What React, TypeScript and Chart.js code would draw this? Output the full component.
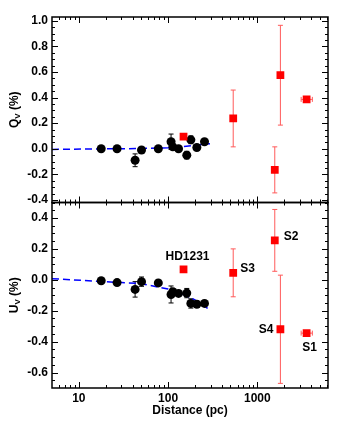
import React, { useEffect, useRef } from 'react';
import { Chart, registerables } from 'chart.js';

Chart.register(...registerables);

// ---- data ----
const starDist = [17.8, 26.8, 42.7, 50.4, 77.7, 108, 113, 131, 162, 180, 210, 256];
const starQ = [0.0, 0.0, -0.09, -0.01, 0.0, 0.055, 0.015, 0.0, -0.05, 0.07, 0.01, 0.055];
const starQErr = [0.01, 0.01, 0.05, 0.015, 0.01, 0.06, 0.02, 0.015, 0.03, 0.03, 0.015, 0.01];
const starU = [-0.006, -0.018, -0.062, -0.012, -0.02, -0.095, -0.077, -0.088, -0.086, -0.153, -0.158, -0.153];
const starUErr = [0.01, 0.01, 0.05, 0.03, 0.01, 0.055, 0.02, 0.015, 0.03, 0.03, 0.02, 0.01];

const hdName = 'HD1231';
const hdDist = [149];
const hdQ = [0.095];
const hdU = [0.067];

const clusterNames = ['S3', 'S2', 'S4', 'S1'];
const clusterDist = [537, 1570, 1815, 3570];
const clusterDistLo = [537, 1570, 1815, 3100];
const clusterDistHi = [537, 1570, 1815, 4140];
const clusterQ = [0.237, -0.165, 0.575, 0.386];
const clusterQErr = [0.222, 0.18, 0.39, 0.012];
const clusterU = [0.045, 0.255, -0.32, -0.345];
const clusterUErr = [0.155, 0.2, 0.35, 0.012];

const fitDist = [5, 50, 100, 150, 200, 295];
const fitQ = [-0.005, 0.002, 0.008, 0.018, 0.027, 0.04];
const fitU = [0.007, -0.025, -0.06, -0.095, -0.13, -0.195];

const xMajor = [10, 100, 1000];
const qMajor = [-0.4, -0.2, 0.0, 0.2, 0.4, 0.6, 0.8, 1.0];
const uMajor = [-0.6, -0.4, -0.2, 0.0, 0.2, 0.4];

const FONT = '"Liberation Sans", Arial, Helvetica, sans-serif';

function xMinorTicks(min: number, max: number) {
  const out: number[] = [];
  for (let p = 0; p <= 4; p++) {
    for (let m = 2; m <= 9; m++) {
      const v = m * Math.pow(10, p);
      if (v > min && v < max) out.push(v);
    }
  }
  return out;
}
function yMinorTicks(min: number, max: number) {
  const out: number[] = [];
  for (let i = Math.ceil(min / 0.05); i <= Math.floor(max / 0.05); i++) {
    if (i % 4 !== 0) out.push(i * 0.05);
  }
  return out;
}

const decorPlugin = {
  id: 'decor',
  beforeDatasetsDraw(chart: any) {
    const ctx = chart.ctx;
    const xs = chart.scales.x;
    ctx.save();
    chart.data.datasets.forEach((ds: any) => {
      if (!ds.errColor) return;
      const ys = chart.scales[ds.yAxisID];
      ctx.strokeStyle = ds.errColor;
      ctx.lineWidth = 1;
      ds.data.forEach((p: any) => {
        const px = xs.getPixelForValue(p.x);
        const py = ys.getPixelForValue(p.y);
        if (p.ey) {
          const y1 = ys.getPixelForValue(p.y + p.ey);
          const y2 = ys.getPixelForValue(p.y - p.ey);
          ctx.beginPath();
          ctx.moveTo(px, y1); ctx.lineTo(px, y2);
          ctx.moveTo(px - 2.5, y1); ctx.lineTo(px + 2.5, y1);
          ctx.moveTo(px - 2.5, y2); ctx.lineTo(px + 2.5, y2);
          ctx.stroke();
        }
        if (p.xlo !== undefined && p.xlo !== p.xhi) {
          const x1 = xs.getPixelForValue(p.xlo);
          const x2 = xs.getPixelForValue(p.xhi);
          ctx.beginPath();
          ctx.moveTo(x1, py); ctx.lineTo(x2, py);
          ctx.moveTo(x1, py - 2.5); ctx.lineTo(x1, py + 2.5);
          ctx.moveTo(x2, py - 2.5); ctx.lineTo(x2, py + 2.5);
          ctx.stroke();
        }
      });
    });
    ctx.restore();
  },
  afterDraw(chart: any) {
    const ctx = chart.ctx;
    const xs = chart.scales.x;
    const area = chart.chartArea;
    const xMin = xMinorTicks(xs.min, xs.max);
    ctx.save();
    ctx.strokeStyle = '#000';
    ctx.fillStyle = '#000';
    const panels = [
      { id: 'yQ', major: qMajor, sym: 'Q' },
      { id: 'yU', major: uMajor, sym: 'U' },
    ];
    panels.forEach((pn) => {
      const ys = chart.scales[pn.id];
      const top = ys.top, bottom = ys.bottom, left = area.left, right = area.right;
      // frame
      ctx.lineWidth = 1.5;
      ctx.strokeRect(left, top, right - left, bottom - top);
      ctx.lineWidth = 1;
      ctx.beginPath();
      // x ticks (top and bottom, inward)
      xMajor.forEach((v) => {
        const px = Math.round(xs.getPixelForValue(v)) + 0.5;
        ctx.moveTo(px, bottom); ctx.lineTo(px, bottom - 6);
        ctx.moveTo(px, top); ctx.lineTo(px, top + 6);
      });
      xMin.forEach((v) => {
        const px = Math.round(xs.getPixelForValue(v)) + 0.5;
        ctx.moveTo(px, bottom); ctx.lineTo(px, bottom - 3);
        ctx.moveTo(px, top); ctx.lineTo(px, top + 3);
      });
      // y ticks (left and right, inward)
      pn.major.forEach((v) => {
        const py = Math.round(ys.getPixelForValue(v)) + 0.5;
        ctx.moveTo(left, py); ctx.lineTo(left + 6, py);
        ctx.moveTo(right, py); ctx.lineTo(right - 6, py);
      });
      yMinorTicks(ys.min, ys.max).forEach((v) => {
        const py = Math.round(ys.getPixelForValue(v)) + 0.5;
        ctx.moveTo(left, py); ctx.lineTo(left + 3, py);
        ctx.moveTo(right, py); ctx.lineTo(right - 3, py);
      });
      ctx.stroke();

      // y title with subscript V
      const cy = (top + bottom) / 2;
      ctx.save();
      ctx.translate(15, cy);
      ctx.rotate(-Math.PI / 2);
      ctx.textBaseline = 'middle';
      ctx.textAlign = 'left';
      const big = 'bold 12px ' + FONT;
      const small = 'bold 8px ' + FONT;
      ctx.font = big;
      const w1 = ctx.measureText(pn.sym).width;
      const w3 = ctx.measureText(' (%)').width;
      ctx.font = small;
      const w2 = ctx.measureText('V').width;
      let sx = -(w1 + w2 + w3) / 2;
      ctx.font = big;
      ctx.fillText(pn.sym, sx, 0);
      sx += w1;
      ctx.font = small;
      ctx.fillText('V', sx, 3);
      sx += w2;
      ctx.font = big;
      ctx.fillText(' (%)', sx, 0);
      ctx.restore();
    });

    // point labels in the U panel
    const yU = chart.scales.yU;
    ctx.font = 'bold 12px ' + FONT;
    ctx.textBaseline = 'middle';
    const hx = xs.getPixelForValue(hdDist[0]);
    const hy = yU.getPixelForValue(hdU[0]);
    ctx.textAlign = 'center';
    ctx.fillText(hdName, hx + 4, hy - 13);
    const offs: Record<string, [number, number, CanvasTextAlign]> = {
      S3: [7, -4, 'left'],
      S2: [9, -4, 'left'],
      S4: [-7, 0, 'right'],
      S1: [3, 15, 'center'],
    };
    clusterNames.forEach((n, i) => {
      const px = xs.getPixelForValue(clusterDist[i]);
      const py = yU.getPixelForValue(clusterU[i]);
      const o = offs[n];
      ctx.textAlign = o[2];
      ctx.fillText(n, px + o[0], py + o[1]);
    });
    ctx.restore();
  },
};

export default function App() {
  const ref = useRef<HTMLCanvasElement | null>(null);
  useEffect(() => {
    if (!ref.current) return;
    const tickFont = { family: FONT, size: 12, weight: 'bold' as const };
    const pts = (xs: number[], ys: number[], es?: number[], lo?: number[], hi?: number[]) =>
      xs.map((x, i) => ({ x, y: ys[i], ey: es ? es[i] : 0, xlo: lo ? lo[i] : undefined, xhi: hi ? hi[i] : undefined }));
    const yScale = (min: number, max: number, major: number[]) => ({
      type: 'linear' as const,
      position: 'left' as const,
      stack: 'panels',
      stackWeight: 1,
      min,
      max,
      afterBuildTicks: (s: any) => { s.ticks = major.map((v) => ({ value: v })); },
      afterFit: (s: any) => { s.width = 52; },
      ticks: {
        callback: (v: any) => Number(v).toFixed(1),
        font: tickFont,
        color: '#000',
        padding: 4,
        autoSkip: false,
      },
      grid: { display: false, drawTicks: false },
      border: { display: false },
    });
    const chart = new Chart(ref.current, {
      type: 'scatter',
      data: {
        datasets: [
          { label: 'fitQ', data: pts(fitDist, fitQ), yAxisID: 'yQ', showLine: true, borderColor: '#0000ff', borderWidth: 1.5, borderDash: [7, 4], pointRadius: 0, order: 10 },
          { label: 'fitU', data: pts(fitDist, fitU), yAxisID: 'yU', showLine: true, borderColor: '#0000ff', borderWidth: 1.5, borderDash: [7, 4], pointRadius: 0, order: 10 },
          { label: 'starsQ', data: pts(starDist, starQ, starQErr), yAxisID: 'yQ', pointRadius: 4.5, backgroundColor: '#000', borderWidth: 0, errColor: '#000', order: 2 } as any,
          { label: 'starsU', data: pts(starDist, starU, starUErr), yAxisID: 'yU', pointRadius: 4.5, backgroundColor: '#000', borderWidth: 0, errColor: '#000', order: 2 } as any,
          { label: 'hdQ', data: pts(hdDist, hdQ), yAxisID: 'yQ', pointStyle: 'rect', pointRadius: 5.5, backgroundColor: '#ff0000', borderWidth: 0, order: 1 },
          { label: 'hdU', data: pts(hdDist, hdU), yAxisID: 'yU', pointStyle: 'rect', pointRadius: 5.5, backgroundColor: '#ff0000', borderWidth: 0, order: 1 },
          { label: 'clQ', data: pts(clusterDist, clusterQ, clusterQErr, clusterDistLo, clusterDistHi), yAxisID: 'yQ', pointStyle: 'rect', pointRadius: 5.5, backgroundColor: '#ff0000', borderWidth: 0, errColor: '#ff5a5a', order: 1 } as any,
          { label: 'clU', data: pts(clusterDist, clusterU, clusterUErr, clusterDistLo, clusterDistHi), yAxisID: 'yU', pointStyle: 'rect', pointRadius: 5.5, backgroundColor: '#ff0000', borderWidth: 0, errColor: '#ff5a5a', order: 1 } as any,
        ],
      },
      options: {
        responsive: false,
        animation: false,
        events: [],
        layout: { padding: { top: 17, right: 16, left: 0, bottom: 0 } },
        plugins: { legend: { display: false }, tooltip: { enabled: false } },
        scales: {
          x: {
            type: 'logarithmic',
            min: 5,
            max: 6200,
            afterBuildTicks: (s: any) => { s.ticks = xMajor.map((v) => ({ value: v })); },
            afterFit: (s: any) => { s.height = 36; },
            ticks: { callback: (v: any) => String(v), font: tickFont, color: '#000', padding: 3, autoSkip: false, maxRotation: 0 },
            grid: { display: false, drawTicks: false },
            border: { display: false },
            title: { display: true, text: 'Distance (pc)', font: tickFont, color: '#000', padding: { top: 0, bottom: 6 } },
          },
          yU: yScale(-0.7, 0.5, uMajor),
          yQ: yScale(-0.42, 1.03, qMajor),
        } as any,
      },
      plugins: [decorPlugin],
    });
    return () => chart.destroy();
  }, []);
  return (
    <div style={{ position: 'fixed', left: 0, top: 0, width: 344, height: 424, background: '#fff' }}>
      <canvas ref={ref} width={344} height={424} style={{ width: 344, height: 424, display: 'block' }} />
    </div>
  );
}
